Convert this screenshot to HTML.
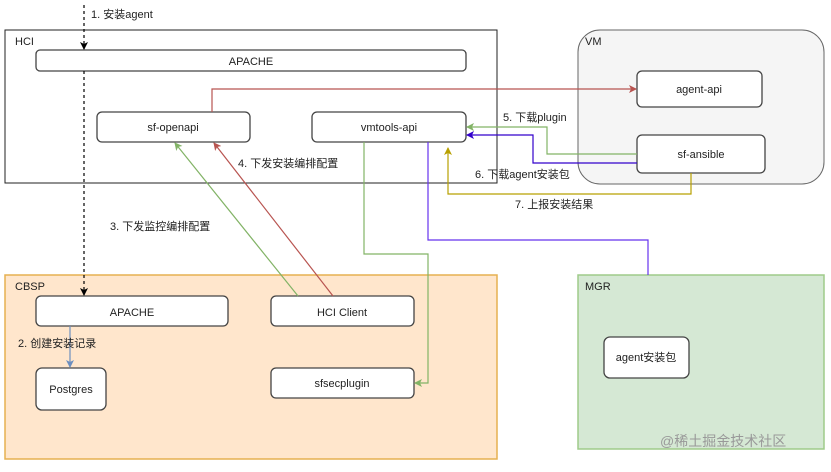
<!DOCTYPE html>
<html><head><meta charset="utf-8"><style>
body{margin:0;background:#fff;}
svg text{font-family:"Liberation Sans","Noto Sans CJK SC",sans-serif;font-size:11px;fill:#222;}
</style></head><body>
<svg width="831" height="467" viewBox="0 0 831 467" xmlns="http://www.w3.org/2000/svg">
<defs>
<marker id="ak" markerWidth="8" markerHeight="8" refX="7" refY="4" orient="auto" markerUnits="userSpaceOnUse"><path d="M0,0 L8,4 L0,8 L2,4 z" fill="#000"/></marker>
<marker id="ar" markerWidth="8" markerHeight="8" refX="7" refY="4" orient="auto" markerUnits="userSpaceOnUse"><path d="M0,0 L8,4 L0,8 L2,4 z" fill="#b85450"/></marker>
<marker id="ag" markerWidth="8" markerHeight="8" refX="7" refY="4" orient="auto" markerUnits="userSpaceOnUse"><path d="M0,0 L8,4 L0,8 L2,4 z" fill="#82b366"/></marker>
<marker id="ab" markerWidth="8" markerHeight="8" refX="7" refY="4" orient="auto" markerUnits="userSpaceOnUse"><path d="M0,0 L8,4 L0,8 L2,4 z" fill="#3300cc"/></marker>
<marker id="ay" markerWidth="8" markerHeight="8" refX="7" refY="4" orient="auto" markerUnits="userSpaceOnUse"><path d="M0,0 L8,4 L0,8 L2,4 z" fill="#b8a000"/></marker>
<marker id="al" markerWidth="8" markerHeight="8" refX="7" refY="4" orient="auto" markerUnits="userSpaceOnUse"><path d="M0,0 L8,4 L0,8 L2,4 z" fill="#6c8ebf"/></marker>
</defs>
<!-- containers -->
<rect x="5" y="30" width="492" height="153" fill="#fff" stroke="#222" stroke-width="1"/>
<text x="15" y="45">HCI</text>
<rect x="578" y="30" width="246" height="154" rx="22" fill="#f5f5f5" stroke="#666"/>
<text x="585" y="45">VM</text>
<rect x="5" y="275" width="492" height="184" fill="#ffe6cc" stroke="#e6b050" stroke-width="1.5"/>
<text x="15" y="290">CBSP</text>
<rect x="578" y="275" width="246" height="174" fill="#d5e8d4" stroke="#9fcb8a" stroke-width="1.5"/>
<text x="585" y="290">MGR</text>
<!-- nodes -->
<g fill="#fff" stroke="#444" stroke-width="1.3">
<rect x="36" y="50" width="430" height="21" rx="4"/>
<rect x="97" y="112" width="153" height="30" rx="5"/>
<rect x="312" y="112" width="154" height="30" rx="5"/>
<rect x="637" y="71" width="125" height="36" rx="5"/>
<rect x="637" y="135" width="128" height="38" rx="5"/>
<rect x="36" y="296" width="192" height="30" rx="5"/>
<rect x="271" y="296" width="143" height="30" rx="5"/>
<rect x="36" y="368" width="70" height="42" rx="6"/>
<rect x="271" y="368" width="143" height="30" rx="5"/>
<rect x="604" y="337" width="85" height="41" rx="6"/>
</g>
<g text-anchor="middle">
<text x="251" y="65">APACHE</text>
<text x="173" y="131">sf-openapi</text>
<text x="389" y="131">vmtools-api</text>
<text x="699" y="93">agent-api</text>
<text x="701" y="158">sf-ansible</text>
<text x="132" y="316">APACHE</text>
<text x="342" y="316">HCI Client</text>
<text x="71" y="393">Postgres</text>
<text x="342" y="387">sfsecplugin</text>
<text x="646" y="361">agent安装包</text>
</g>
<!-- connectors -->
<g fill="none" stroke-width="1.2">
<path d="M84,5 V49" stroke="#000" stroke-dasharray="3,3" marker-end="url(#ak)"/>
<path d="M84,71 V295" stroke="#000" stroke-dasharray="3,3" marker-end="url(#ak)"/>
<path d="M70,326 V367" stroke="#6c8ebf" marker-end="url(#al)"/>
<path d="M212,112 V89 H636" stroke="#b85450" marker-end="url(#ar)"/>
<path d="M298,296 L175,143" stroke="#82b366" marker-end="url(#ag)"/>
<path d="M333,296 L214,143" stroke="#b85450" marker-end="url(#ar)"/>
<path d="M637,154 H547 V127 H467" stroke="#82b366" marker-end="url(#ag)"/>
<path d="M637,163 H533 V135 H467" stroke="#3300cc" marker-end="url(#ab)"/>
<path d="M691,173 V194 H448 V148" stroke="#b8a000" marker-end="url(#ay)"/>
<path d="M428,142 V240 H648 V275" stroke="#6633ee"/>
<path d="M364,142 V254 H428 V383 H415" stroke="#82b366" marker-end="url(#ag)"/>
</g>
<!-- labels -->
<text x="91" y="18">1. 安装agent</text>
<text x="238" y="167">4. 下发安装编排配置</text>
<text x="110" y="230">3. 下发监控编排配置</text>
<text x="503" y="121">5. 下载plugin</text>
<text x="475" y="178">6. 下载agent安装包</text>
<text x="515" y="208">7. 上报安装结果</text>
<text x="18" y="347">2. 创建安装记录</text>
<text x="660" y="446" style="font-size:14px;fill:#999">@稀土掘金技术社区</text>
</svg>
</body></html>
